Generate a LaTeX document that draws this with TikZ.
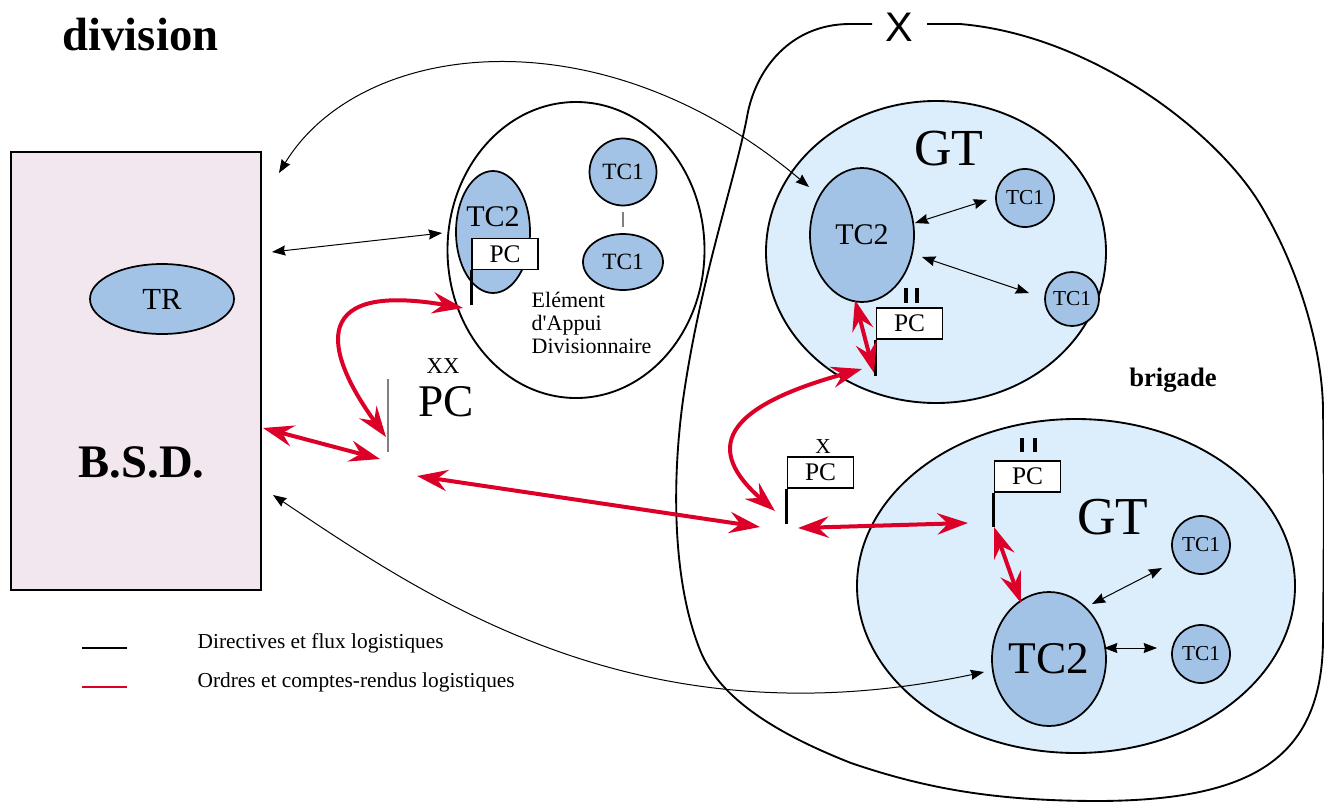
\documentclass[tikz,border=0pt]{standalone}
\usepackage{fontspec}
\setmainfont{Liberation Serif}
\newfontfamily\markfont{Liberation Sans}
\usetikzlibrary{arrows.meta,shapes.geometric}
\definecolor{bsdfill}{RGB}{242,230,239}
\definecolor{tcfill}{RGB}{163,195,230}
\definecolor{gtfill}{RGB}{220,238,251}
\definecolor{ordre}{RGB}{220,0,40}
\begin{document}
\begin{tikzpicture}[x=0.75pt,y=-0.75pt,
  fs/.style={font=\fontsize{#1}{#1}\selectfont},
  bfs/.style={font=\fontsize{#1}{#1}\selectfont\bfseries},
  unit/.style={draw=black,line width=1.3pt,fill=tcfill,inner sep=0pt},
  tcell/.style 2 args={unit,ellipse,minimum width=#1*0.75pt,minimum height=#2*0.75pt},
  tcirc/.style={unit,circle,minimum size=#1*0.75pt},
  groupe/.style 2 args={draw=black,line width=1.4pt,ellipse,inner sep=0pt,
    minimum width=#1*0.75pt,minimum height=#2*0.75pt},
  pcbox/.style={draw=black,line width=1.3pt,fill=white,inner sep=0pt,
    minimum width=66*0.75pt,minimum height=31*0.75pt,fs=19pt},
  pole/.style={line width=2.2pt},
  bars/.style={line width=2.4pt},
  ordres/.style={draw=ordre,line width=3pt,
    {Stealth[length=23pt,width=16pt,inset=8pt]}-{Stealth[length=23pt,width=16pt,inset=8pt]}},
  flux/.style={draw=black,line width=0.75pt,
    {Stealth[length=10pt,width=7.5pt,inset=1pt]}-{Stealth[length=10pt,width=7.5pt,inset=1pt]}},
]
\useasboundingbox (0,0) rectangle (1324,803);

% ---- brigade boundary (open at the top for its X mark)
\draw[line width=1.4pt]
  (872,24) -- (850,24) .. controls (790,24) and (755,70) .. (747,117)
  .. controls (735,180) and (700,280) .. (683,400)
  .. controls (672,480) and (672,580) .. (700,650)
  .. controls (720,700) and (780,735) .. (851,763)
  .. controls (930,790) and (1000,801) .. (1100,801)
  .. controls (1250,800) and (1322,760) .. (1323,640)
  .. controls (1324,540) and (1324,470) .. (1323,408)
  .. controls (1322,350) and (1300,270) .. (1260,204)
  .. controls (1215,130) and (1090,35) .. (960,24)
  -- (927,24);
\node[font=\markfont\fontsize{31pt}{31pt}\selectfont] (xmark) at (899,27) {X};

% ---- title
\node[bfs=35pt,anchor=base west] (titre) at (58,50) {division};

% ---- B.S.D.
\node[draw=black,line width=1.4pt,fill=bsdfill,inner sep=0pt,
  minimum width=250*0.75pt,minimum height=438*0.75pt] (bsd) at (136,371) {};
\node[tcell={144}{70},fs=23pt] (tr) at (162,299) {TR};
\node[bfs=35pt,anchor=base west] (bsdlabel) at (74,477) {B.S.D.};

% ---- Element d'Appui Divisionnaire
\node[groupe={257}{296}] (ead) at (576,250) {};
\node[tcell={74}{122}] (tc2a) at (493,232) {};
\node[fs=22.5pt] (tc2atext) at (493,217) {TC2};
\node[pcbox] (pca) at (505,254) {PC};
\draw[pole] (pca.south west) -- ++(0,35);
\node[tcirc=67,fs=17.5pt] (tc1a) at (623,172) {TC1};
\node[tcell={80}{56},fs=17.5pt] (tc1b) at (623,262) {TC1};
\draw[gray,line width=0.8pt] (tc1a.south) ++(0,6) coordinate (lka) -- ++(0,15) coordinate (lkb);
\node[fs=16.5pt,anchor=base west] (eadl1) at (527,307) {Elément};
\node[fs=16.5pt,anchor=base west] (eadl2) at (527,330) {d\textquotesingle Appui};
\node[fs=16.5pt,anchor=base west] (eadl3) at (527,353) {Divisionnaire};

% ---- PC de division
\draw[gray,line width=0.9pt] (388,379) coordinate (xxa) -- (388,452) coordinate (xxb);
\node[fs=17pt,anchor=base] (xxmark) at (443,373) {XX};
\node[fs=34pt,anchor=base west] (pcdiv) at (414,416) {PC};

% ---- GT (upper)
\node[groupe={340}{302},fill=gtfill] (gt1) at (936,252) {};
\node[fs=39pt,anchor=base] (gt1label) at (949,165) {GT};
\node[tcell={104}{134},fs=22.5pt] (tc2b) at (862,235) {TC2};
\node[tcirc=58,fs=16pt] (tc1c) at (1025,198) {TC1};
\node[tcirc=54,fs=16pt] (tc1d) at (1072,299) {TC1};
\draw[bars] (906,288) -- (906,303) (917,288) -- (917,303);
\node[pcbox] (pcb) at (909.5,323.5) {PC};
\draw[pole] (pcb.south west) -- ++(0,36);

% ---- GT (lower)
\node[groupe={438}{334},fill=gtfill] (gt2) at (1076,586) {};
\node[fs=40pt,anchor=base] (gt2label) at (1113,534) {GT};
\node[tcell={102}{134},fs=34pt] (tc2c) at (1049,659) {TC2};
\node[tcirc=58,fs=16pt] (tc1e) at (1201,545) {TC1};
\node[tcirc=58,fs=16pt] (tc1f) at (1201,654) {TC1};
\draw[bars] (1022,438) -- (1022,452) (1035,438) -- (1035,452);
\node[pcbox] (pcc) at (1027.5,476.5) {PC};
\draw[pole] (pcc.south west) -- ++(0,34);

% ---- PC de brigade
\node[fs=16pt,anchor=base] (xbrig) at (823,453) {X};
\node[pcbox] (pcd) at (820.5,472.5) {PC};
\draw[pole] (pcd.south west) -- ++(0,35);
\node[bfs=20pt] (brigade) at (1173,380) {brigade};

% ---- connector ends
\coordinate (bsdtop) at (279,173);
\coordinate (tc2bnw) at (809,187);
\coordinate (bsdmid) at (272,252);
\coordinate (eadw) at (442,233);
\coordinate (bsdlow) at (273,495);
\coordinate (tc2cw) at (984,672);
\coordinate (bsdred) at (263,428);
\coordinate (xxin) at (380,459);
\coordinate (eadsw) at (463,308);
\coordinate (xxtop) at (386,437);
\coordinate (xxout) at (417,476);
\coordinate (pcdin) at (760,527);
\coordinate (pcdout) at (798,528);
\coordinate (pccin) at (968,523);
\coordinate (pcbfoot) at (862,369);
\coordinate (pcdtop) at (775,511);
\coordinate (tc2bs) at (855,300);
\coordinate (pcbpole) at (874,373);
\coordinate (pccpole) at (994,527);
\coordinate (tc2cn) at (1021,603);

% ---- directives et flux logistiques
\draw[flux] (bsdtop) .. controls (360,40) and (600,10) .. (tc2bnw);
\draw[flux] (bsdmid) -- (eadw);
\draw[flux] (bsdlow) .. controls (430,600) and (640,745) .. (tc2cw);
\draw[flux] (915,223) coordinate (tc2be) -- (987,200) coordinate (tc1cw);
\draw[flux] (922,257) coordinate (tc2bse) -- (1029,293) coordinate (tc1dw);
\draw[flux] (1092,604) coordinate (tc2cne) -- (1162,568) coordinate (tc1esw);
\draw[flux] (1104,648) coordinate (tc2ce) -- (1157,648) coordinate (tc1fw);

% ---- ordres et comptes-rendus logistiques
\draw[ordres] (bsdred) -- (xxin);
\draw[ordres] (eadsw) .. controls (300,280) and (330,360) .. (xxtop);
\draw[ordres] (xxout) -- (pcdin);
\draw[ordres] (pcdout) -- (pccin);
\draw[ordres] (pcbfoot) .. controls (720,408) and (705,450) .. (pcdtop);
\draw[ordres] (tc2bs) -- (pcbpole);
\draw[ordres] (pccpole) -- (tc2cn);

% ---- legend
\draw[line width=1.5pt] (82,648) -- (127,648);
\draw[ordre,line width=1.5pt] (82,687) -- (127,687);
\node[fs=16pt,anchor=base west] (leg1) at (193,648) {Directives et flux logistiques};
\node[fs=16pt,anchor=base west] (leg2) at (193,687) {Ordres et comptes-rendus logistiques};
\end{tikzpicture}
\end{document}
